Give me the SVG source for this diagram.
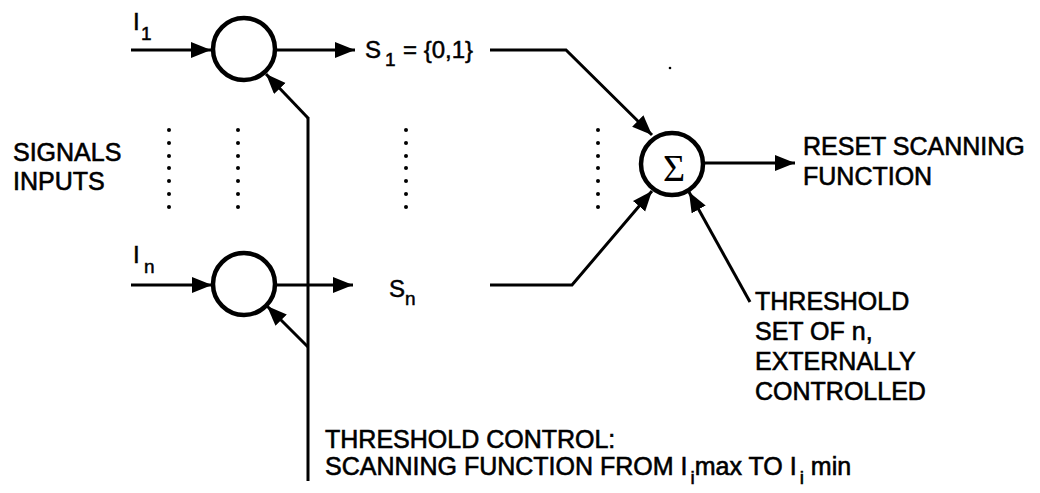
<svg xmlns="http://www.w3.org/2000/svg" width="1040" height="493" viewBox="0 0 1040 493">
<style>
.ln{fill:none;stroke:#000;stroke-width:3;stroke-linejoin:miter}
.nd{fill:#fff;stroke:#000;stroke-width:4.5}
.t{font-family:"Liberation Sans",Arial,sans-serif;font-size:25px;fill:#000;stroke:#000;stroke-width:0.6}
.lb{font-family:"Liberation Sans",Arial,sans-serif;font-size:24px;fill:#000;stroke:#000;stroke-width:0.5}
.sb{font-size:19px}
.dot{fill:#000}
</style>
<defs>
<marker id="ah" markerUnits="userSpaceOnUse" markerWidth="22" markerHeight="18" refX="20" refY="8" orient="auto">
<path d="M0,0 L20,8 L0,16 z" fill="#000"/>
</marker>
</defs>
<rect width="1040" height="493" fill="#fff"/>

<g id="connectors">
<path class="ln" d="M131,50 L211,50" marker-end="url(#ah)"/>
<path class="ln" d="M131,285 L212,285" marker-end="url(#ah)"/>
<path class="ln" d="M275,50 L355,50" marker-end="url(#ah)"/>
<path class="ln" d="M275,285 L353,285" marker-end="url(#ah)"/>
<path class="ln" d="M308,117 L308,481"/>
<path class="ln" d="M308,118 L266,74" marker-end="url(#ah)"/>
<path class="ln" d="M308,347 L267,306" marker-end="url(#ah)"/>
<path class="ln" d="M490,50 L566,50 L652,135" marker-end="url(#ah)"/>
<path class="ln" d="M490,285 L572,285 L652,191" marker-end="url(#ah)"/>
<path class="ln" d="M750,302 L689,192" marker-end="url(#ah)"/>
<path class="ln" d="M704,163 L795,163" marker-end="url(#ah)"/>
</g>

<g id="node-comp1"><circle class="nd" cx="244" cy="49" r="31"/></g>
<g id="node-compn"><circle class="nd" cx="244" cy="284" r="31"/></g>
<g id="node-sum">
<circle class="nd" cx="672" cy="164" r="31"/>
<text x="674" y="181" text-anchor="middle" font-family="Liberation Serif,'Times New Roman',serif" font-size="38">Σ</text>
</g>

<g id="dots">
<g class="dot">
<circle cx="169" cy="130" r="2"/><circle cx="169" cy="143" r="2"/><circle cx="169" cy="156" r="2"/><circle cx="169" cy="168" r="2"/><circle cx="169" cy="181" r="2"/><circle cx="169" cy="194" r="2"/><circle cx="169" cy="207" r="2"/>
<circle cx="238" cy="130" r="2"/><circle cx="238" cy="143" r="2"/><circle cx="238" cy="156" r="2"/><circle cx="238" cy="168" r="2"/><circle cx="238" cy="181" r="2"/><circle cx="238" cy="194" r="2"/><circle cx="238" cy="207" r="2"/>
<circle cx="406" cy="130" r="2"/><circle cx="406" cy="143" r="2"/><circle cx="406" cy="156" r="2"/><circle cx="406" cy="168" r="2"/><circle cx="406" cy="181" r="2"/><circle cx="406" cy="194" r="2"/><circle cx="406" cy="207" r="2"/>
<circle cx="598" cy="130" r="2"/><circle cx="598" cy="143" r="2"/><circle cx="598" cy="156" r="2"/><circle cx="598" cy="168" r="2"/><circle cx="598" cy="181" r="2"/><circle cx="598" cy="194" r="2"/><circle cx="598" cy="207" r="2"/>
<circle cx="670" cy="68" r="1.3"/>
</g>
</g>

<g id="labels">
<text class="lb" x="133" y="30" font-size="27">I<tspan class="sb" x="141" y="40">1</tspan></text>
<text class="lb" x="133" y="263" font-size="26">I<tspan class="sb" x="144" y="273">n</tspan></text>
<text class="lb" x="365" y="58">S<tspan class="sb" x="385" y="66">1</tspan><tspan x="403" y="58">= {0,1}</tspan></text>
<text class="lb" x="389" y="297">S<tspan class="sb" x="405" y="305">n</tspan></text>
<text class="t" x="13" y="161">SIGNALS</text>
<text class="t" x="13" y="190">INPUTS</text>
<text class="t" x="803" y="155">RESET SCANNING</text>
<text class="t" x="803" y="185">FUNCTION</text>
<text class="t" x="755" y="310">THRESHOLD</text>
<text class="t" x="755" y="340">SET OF n,</text>
<text class="t" x="755" y="370">EXTERNALLY</text>
<text class="t" x="755" y="400">CONTROLLED</text>
<text class="t" x="325" y="448">THRESHOLD CONTROL:</text>
<text class="t" x="325" y="475">SCANNING FUNCTION FROM I<tspan class="sb" dx="3" dy="9">i</tspan><tspan dy="-9">max TO I</tspan><tspan class="sb" dx="3" dy="9">i</tspan><tspan dy="-9"> min</tspan></text>
</g>
</svg>
